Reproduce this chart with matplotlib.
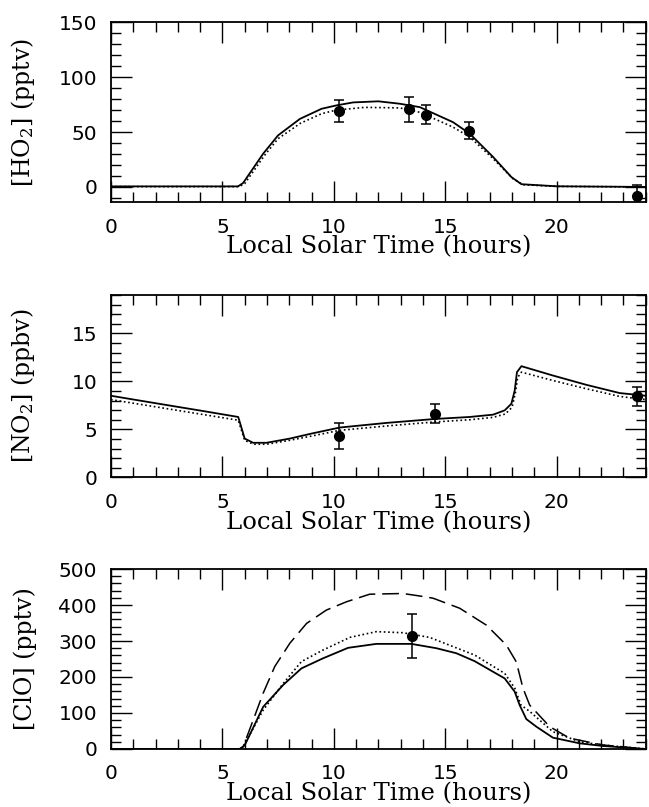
import matplotlib
matplotlib.use('Agg')
import matplotlib.pyplot as plt
from matplotlib.ticker import MultipleLocator

plt.rcParams['mathtext.fontset'] = 'dejavuserif'

# HO2 panel
ho2_solid_t = [0, 5.7, 5.93, 6.83, 7.5, 8.48, 9.45, 10.12, 10.87, 12.0, 12.96, 13.86, 15.35, 16.1, 17.15, 17.97, 18.42, 20.0, 24.0]
ho2_solid = [0.5, 0.5, 3.6, 30.3, 47, 62, 71.2, 74.3, 77, 78, 75.8, 72.7, 59, 48.5, 27.3, 9, 2.5, 0.6, 0]
ho2_dot_t = [0, 5.75, 6.0, 6.9, 7.5, 8.5, 9.45, 10.1, 11.4, 12.96, 13.86, 15.35, 16.1, 17.15, 18.04, 18.5, 20, 24]
ho2_dot = [0.3, 0.3, 3.0, 29, 44, 58, 66.7, 70, 72.5, 72, 68, 54.5, 45.5, 25.8, 7.5, 2, 0.5, 0]
ho2_obs_t = [10.22, 13.38, 14.16, 16.07, 23.6]
ho2_obs = [68.8, 70.6, 65.8, 51.3, -8]
ho2_err = [10, 11.5, 8.7, 8, 10]

# NO2 panel
no2_solid_t = [0, 1.0, 3.0, 4.0, 5.71, 5.8, 6.0, 6.38, 6.98, 8.03, 9.0, 10.27, 12.36, 14.53, 16.1, 17.15, 17.67, 17.97, 18.12, 18.22, 18.42, 19.83, 21.33, 22.83, 24.0]
no2_solid = [8.5, 8.11, 7.34, 6.96, 6.29, 5.6, 4.04, 3.6, 3.6, 4.04, 4.56, 5.19, 5.67, 6.08, 6.29, 6.53, 6.98, 7.67, 9.06, 10.96, 11.58, 10.61, 9.64, 8.78, 8.5]
no2_dot_t = [0, 5.71, 5.8, 6.0, 6.4, 7.0, 8.0, 9.0, 10.27, 12.36, 14.53, 16.1, 17.15, 17.7, 18.0, 18.15, 18.25, 18.42, 19.83, 21.33, 22.83, 24]
no2_dot = [8.1, 5.95, 5.3, 3.85, 3.45, 3.45, 3.85, 4.3, 4.9, 5.35, 5.77, 6.0, 6.25, 6.6, 7.3, 8.8, 10.4, 10.96, 10.09, 9.23, 8.43, 8.1]
no2_obs_t = [10.22, 14.53, 23.62]
no2_obs = [4.32, 6.64, 8.43]
no2_err = [1.35, 1.0, 1.0]

# ClO panel
clo_solid_t = [0, 5.8, 6.0, 6.83, 7.73, 8.55, 9.52, 10.64, 11.91, 13.48, 14.6, 15.5, 16.32, 17.67, 18.12, 18.34, 18.64, 19.09, 19.83, 21.03, 22.08, 24]
clo_solid = [0, 0, 10, 117, 178, 224, 252, 281, 292, 292, 280, 266, 244, 196, 159, 122, 83, 62, 31.5, 15.7, 8.3, 0]
clo_dot_t = [0, 5.75, 5.93, 6.83, 7.73, 8.55, 9.52, 10.72, 11.91, 13.1, 14.3, 16.32, 17.67, 18.12, 18.4, 18.8, 19.83, 21.03, 22.08, 24]
clo_dot = [0, 0, 6, 108, 182, 243, 275, 310, 326, 323, 310, 261, 210, 169, 122, 104, 48, 20, 11, 0]
clo_dash_t = [0, 5.75, 5.93, 6.38, 6.83, 7.35, 8.03, 8.78, 9.67, 10.57, 11.61, 13.1, 13.86, 14.45, 15.65, 16.85, 17.74, 18.19, 18.49, 18.79, 19.69, 20.58, 22.08, 24]
clo_dash = [0, 0, 6, 80, 155, 229, 294, 349, 386, 409, 430, 432, 425, 419, 391, 344, 289, 242, 169, 122, 62, 30, 11, 0]
clo_obs_t = [13.53]
clo_obs = [314]
clo_err = [60]

fig = plt.figure(figsize=(6.49, 8.07), dpi=100)

left, width = 0.171, 0.824
boxes = [(0.7493, 0.2231), (0.4085, 0.2260), (0.0719, 0.2230)]
ylabels = [r'[HO$_2$] (pptv)', r'[NO$_2$] (ppbv)', '[ClO] (pptv)']
ylims = [(-14, 150), (0, 19), (0, 500)]
ymajor = [50, 5, 100]
yminor = [10, 1, 20]

axes = []
for (b, h), lab, yl, ma, mi in zip(boxes, ylabels, ylims, ymajor, yminor):
    ax = fig.add_axes([left, b, width, h])
    ax.set_xlim(0, 24)
    ax.set_ylim(*yl)
    ax.xaxis.set_major_locator(MultipleLocator(5))
    ax.xaxis.set_minor_locator(MultipleLocator(1))
    ax.yaxis.set_major_locator(MultipleLocator(ma))
    ax.yaxis.set_minor_locator(MultipleLocator(mi))
    ax.tick_params(which='both', direction='in', top=True, right=True, width=1.0, colors='black')
    ax.tick_params(which='major', length=15)
    ax.tick_params(which='minor', length=7.5)
    ax.tick_params(axis='x', which='major', pad=11, labelsize=14.5)
    ax.tick_params(axis='y', which='major', pad=10, labelsize=14.5)
    for s in ax.spines.values():
        s.set_linewidth(1.3)
    ax.set_xlabel('Local Solar Time (hours)', family='DejaVu Serif', fontsize=17.5)
    ax.xaxis.set_label_coords(0.5, -0.185)
    ax.xaxis.label.set_va('top')
    ax.set_ylabel(lab, family='DejaVu Serif', fontsize=17)
    ax.yaxis.set_label_coords(-0.1375, 0.5)
    axes.append(ax)

dot = (0, (1, 1.6))
dash = (0, (11, 4.5))
err_kw = dict(fmt='o', color='black', ms=7, capsize=3.8, elinewidth=1.1, capthick=1.1, zorder=5)

ax = axes[0]
ax.plot(ho2_solid_t, ho2_solid, color='black', lw=1.3)
ax.plot(ho2_dot_t, ho2_dot, color='black', lw=1.2, linestyle=dot)
ax.errorbar(ho2_obs_t, ho2_obs, yerr=ho2_err, **err_kw)

ax = axes[1]
ax.plot(no2_solid_t, no2_solid, color='black', lw=1.3)
ax.plot(no2_dot_t, no2_dot, color='black', lw=1.2, linestyle=dot)
ax.errorbar(no2_obs_t, no2_obs, yerr=no2_err, **err_kw)

ax = axes[2]
ax.plot(clo_solid_t, clo_solid, color='black', lw=1.3)
ax.plot(clo_dot_t, clo_dot, color='black', lw=1.2, linestyle=dot)
ax.plot(clo_dash_t, clo_dash, color='black', lw=1.1, linestyle=dash)
ax.errorbar(clo_obs_t, clo_obs, yerr=clo_err, **err_kw)

plt.savefig('out.png', dpi=100)
